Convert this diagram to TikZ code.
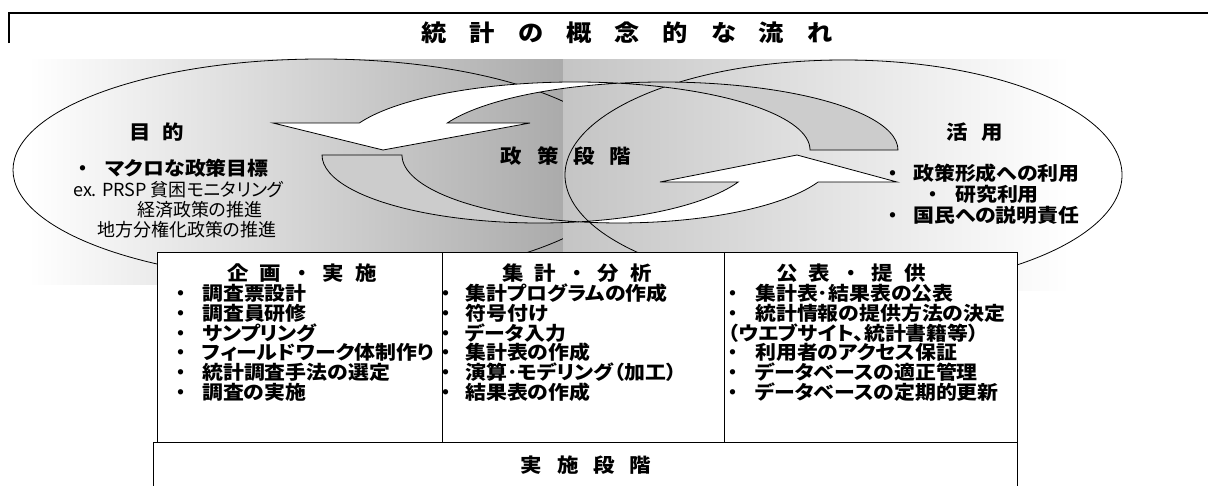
\documentclass[tikz,border=0pt]{standalone}
\usepackage{fontspec}
\newfontfamily\jp[RawFeature=+palt]{Noto Sans CJK JP}
\newfontfamily\jpw[RawFeature=+palt, FakeStretch=1.1]{Noto Sans CJK JP}
\newfontfamily\jpf{Noto Sans CJK JP}
\definecolor{gL}{gray}{0.67}
\definecolor{gR}{gray}{0.77}
\definecolor{bandgray}{gray}{0.8}
\newcommand\bul[1]{\llap{\makebox[#1][l]{\makebox[0pt][c]{\jpf\bfseries ・}}}}
\newcommand\gp[1]{\hspace{#1}}
\begin{document}
\begin{tikzpicture}[x=1pt,y=-1pt,
  outl/.style={draw=black, line width=0.8pt},
  boxl/.style={draw=black, line width=1pt, fill=white},
  lbl/.style={inner sep=0pt, anchor=base, font=\jpw\bfseries\fontsize{19.5}{19.5}\selectfont},
  item/.style={inner sep=0pt, anchor=base west, font=\jpw\bfseries\fontsize{19}{19}\selectfont},
  note/.style={inner sep=0pt, anchor=base west, font=\jp\fontsize{18}{18}\selectfont},
  ttl/.style={inner sep=0pt, anchor=base, font=\jpw\bfseries\fontsize{23}{23}\selectfont}]
\useasboundingbox (0,0) rectangle (1208,485);
\fill[white] (0,0) rectangle (1208,485);
% frame
\draw[line width=2pt] (9,43) -- (9,13) -- (1210,13);
\node[ttl] (title) at (627,41) {統\gp{23pt}計\gp{23pt}の\gp{23pt}概\gp{23pt}念\gp{23pt}的\gp{23pt}な\gp{23pt}流\gp{23pt}れ};
% backgrounds and ellipses
\shade[left color=white, right color=gL] (28,59) rectangle (563,284);
\draw[outl] (321,170) ellipse [x radius=308, y radius=111];
\shade[left color=gR, right color=white] (563,59) rectangle (1070,290);
\draw[outl] (843.5,175) ellipse [x radius=278.5, y radius=115];
% upper curved arrow (points left)
\filldraw[outl, fill=bandgray] (898,150)
  arc[start angle=0, end angle=-100.79, x radius=235, y radius=68]
  arc[start angle=-79.21, end angle=0, x radius=235, y radius=68] -- cycle;
\filldraw[outl, fill=white] (619,83.2)
  arc[start angle=-79.21, end angle=-156.61, x radius=235, y radius=68]
  -- (273,123) -- (383,150) -- (530,123) -- (447.3,123)
  arc[start angle=-156.61, end angle=-100.79, x radius=235, y radius=68] -- cycle;
% lower curved arrow (points right)
\filldraw[outl, fill=bandgray] (322,155)
  arc[start angle=180, end angle=79.38, x radius=217, y radius=68]
  arc[start angle=100.62, end angle=180, x radius=217, y radius=68] -- cycle;
\filldraw[outl, fill=white] (579,221.8)
  arc[start angle=100.62, end angle=23.39, x radius=217, y radius=68]
  -- (897,182) -- (797,155) -- (660,182) -- (738.2,182)
  arc[start angle=23.39, end angle=79.38, x radius=217, y radius=68] -- cycle;
% policy stage texts
\node[lbl] (mokuteki) at (157,139.5) {目\gp{12pt}的};
\node[item] (macro) at (105,175.5) {\bul{22pt}マクロな政策目標};
\node[note] (ex1) at (73,196.5) {ex. PRSP 貧困モニタリング};
\node[note] (ex2) at (137,216.5) {経済政策の推進};
\node[note] (ex3) at (97,236.5) {地方分権化政策の推進};
\node[lbl] (seisaku) at (566,163.5) {政\gp{15pt}策\gp{15pt}段\gp{15pt}階};
\node[lbl] (katsuyo) at (975,139.5) {活\gp{14pt}用};
\node[item] (k1) at (913,180.5) {\bul{20pt}政策形成への利用};
\node[item] (k2) at (955,201) {\bul{22pt}研究利用};
\node[item] (k3) at (913,222) {\bul{20pt}国民への説明責任};
% implementation boxes
\filldraw[boxl] (153,490) -- (153,442) -- (1017,442) -- (1017,490);
\filldraw[boxl] (157,252) rectangle (1017,442);
\draw[line width=1pt] (442,252) -- (442,442);
\draw[line width=1pt] (724,252) -- (724,442);
\node[lbl] (h1) at (302,280.5) {企\gp{11pt}画\gp{11pt}{\jpf ・}\gp{11pt}実\gp{11pt}施};
\node[lbl] (h2) at (577,280.5) {集\gp{11pt}計\gp{11pt}{\jpf ・}\gp{11pt}分\gp{11pt}析};
\node[lbl] (h3) at (851,280.5) {公\gp{11pt}表\gp{11pt}{\jpf ・}\gp{11pt}提\gp{11pt}供};
\foreach \txt [count=\i] in {調査票設計, 調査員研修, サンプリング, フィールドワーク体制作り, 統計調査手法の選定, 調査の実施}
  \node[item] (a\i) at (202,{300.5+19.8*(\i-1)}) {\bul{21pt}\txt};
\foreach \txt [count=\i] in {集計プログラムの作成, 符号付け, データ入力, 集計表の作成, 演算･モデリング（加工）, 結果表の作成}
  \node[item] (b\i) at (465,{300.5+19.8*(\i-1)}) {\bul{19pt}\txt};
\node[item] (c1) at (755,300.5) {\bul{22pt}集計表･結果表の公表};
\node[item] (c2) at (755,320.3) {\bul{22pt}統計情報の提供方法の決定};
\node[item] (c3) at (728,340.1) {（ウエブサイト、統計書籍等）};
\node[item] (c4) at (755,359.9) {\bul{22pt}利用者のアクセス保証};
\node[item] (c5) at (755,379.7) {\bul{22pt}データベースの適正管理};
\node[item] (c6) at (755,399.5) {\bul{22pt}データベースの定期的更新};
\node[lbl] (jisshi) at (586,472.5) {実\gp{15pt}施\gp{15pt}段\gp{15pt}階};
\end{tikzpicture}
\end{document}
